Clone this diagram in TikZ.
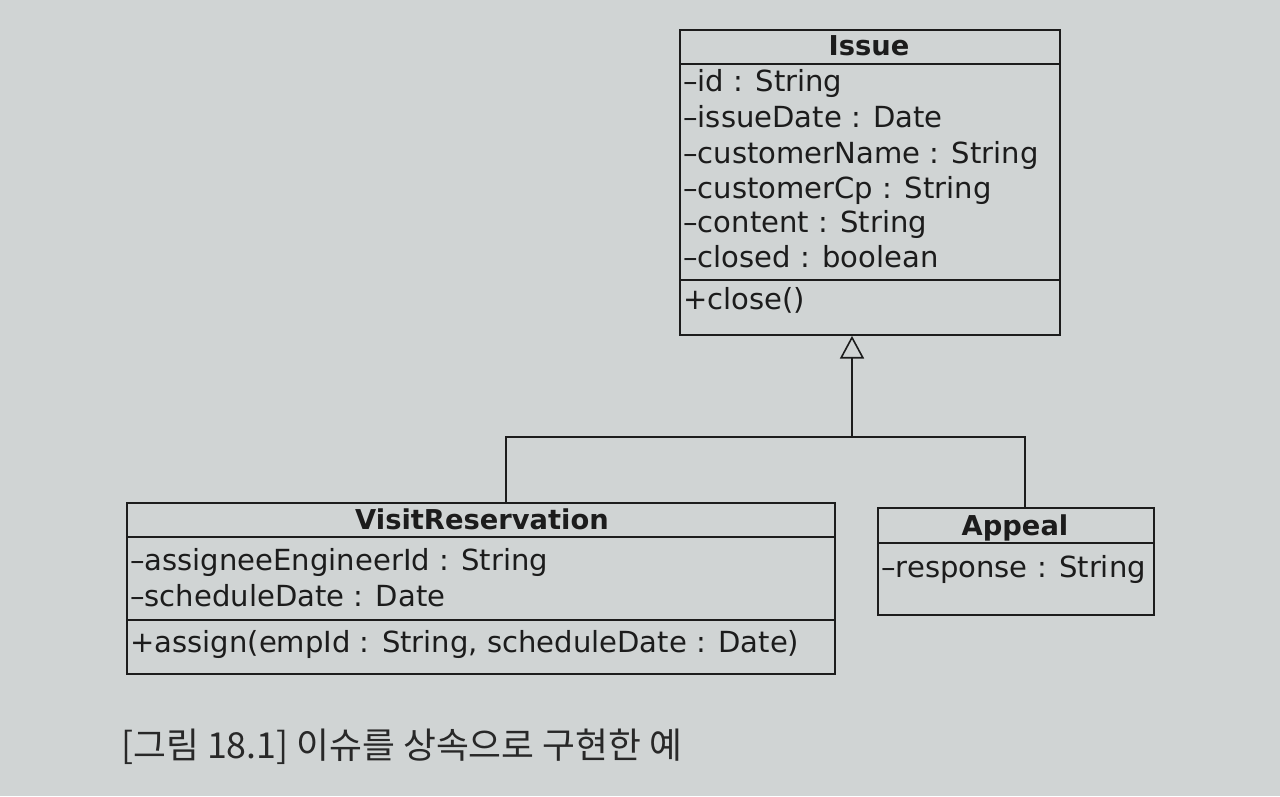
\documentclass[tikz,border=0pt]{standalone}
\usepackage{fontspec}
\setmainfont{DejaVu Sans}
\newfontfamily\krfont{Noto Sans CJK KR}
\usetikzlibrary{arrows.meta}
\definecolor{paper}{RGB}{208,212,212}
\definecolor{ink}{RGB}{28,28,28}
\definecolor{capink}{RGB}{40,40,40}
\tikzset{
  classbox/.style={draw=ink, line width=1.4pt, inner sep=0pt, anchor=north west},
  sepline/.style={draw=ink, line width=1.4pt},
  member/.style={anchor=base west, inner sep=0pt, text=ink, font=\fontsize{21.8}{26}\selectfont},
  title/.style={anchor=base, inner sep=0pt, text=ink, font=\bfseries\fontsize{20.5}{24}\selectfont},
  link/.style={draw=ink, line width=1.4pt},
  inherit/.style={link, -{Triangle[open, length=17pt, width=18pt, line width=1.2pt]}},
}
\begin{document}
\begin{tikzpicture}[x=0.75pt, y=-0.75pt]
\fill[paper] (0,0) rectangle (1280,796);
\useasboundingbox (0,0) rectangle (1280,796);

% Issue
\node[classbox, minimum width=285pt, minimum height=228.75pt] (issue) at (679,29) {};
\draw[sepline] (679,64) -- (1059,64);
\draw[sepline] (679,280) -- (1059,280);
\node[title] (issueT) at (869,55) {Issue};
\node[member] (i1) at (683,91) {–id : String};
\node[member] (i2) at (683,127) {–issueDate : Date};
\node[member] (i3) at (683,163) {–customerName : String};
\node[member] (i4) at (683,198) {–customerCp : String};
\node[member] (i5) at (683,232) {–content : String};
\node[member] (i6) at (683,267) {–closed : boolean};
\node[member] (i7) at (683,309) {+close()};

% VisitReservation
\node[classbox, minimum width=531pt, minimum height=128.25pt] (vr) at (126,502) {};
\draw[sepline] (126,537) -- (834,537);
\draw[sepline] (126,620) -- (834,620);
\node[title] (vrT) at (482,529) {VisitReservation};
\node[member] (v1) at (130,570) {–assigneeEngineerId : String};
\node[member] (v2) at (130,606) {–scheduleDate : Date};
\node[member] (v3) at (130,652) {+assign(empId : String, scheduleDate : Date)};

% Appeal
\node[classbox, minimum width=207pt, minimum height=80.25pt] (ap) at (877,507) {};
\draw[sepline] (877,543) -- (1153,543);
\node[title] (apT) at (1015,535) {Appeal};
\node[member] (a1) at (881,577) {–response : String};

% Inheritance
\coordinate (jL) at (506,437);
\coordinate (jR) at (1025,437);
\coordinate (jM) at (852,437);
\draw[link] (vr.north -| jL) -- (jL) -- (jR) -- (ap.north -| jR);
\draw[inherit] (jM) -- (issue.south -| jM);

% Caption
\node[anchor=base west, inner sep=0pt, text=capink, font=\krfont\fontsize{26.8}{32}\selectfont] (cap) at (121,758) {[그림 18.1] 이슈를 상속으로 구현한 예};
\end{tikzpicture}
\end{document}
